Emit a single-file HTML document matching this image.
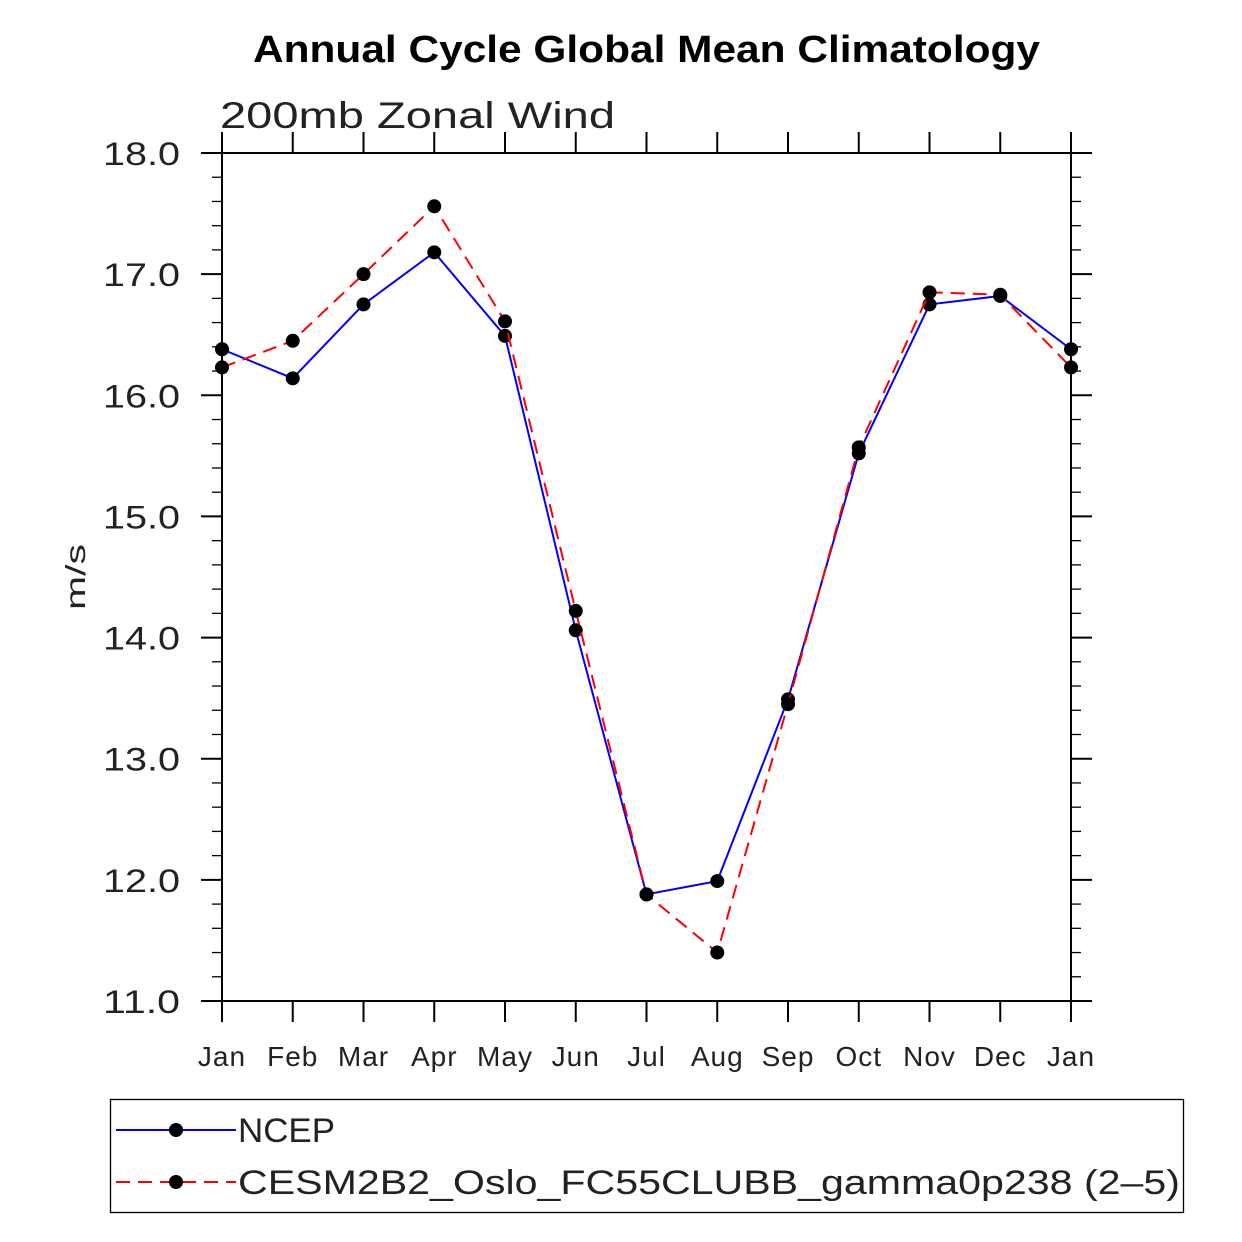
<!DOCTYPE html>
<html><head><meta charset="utf-8"><style>
html,body{margin:0;padding:0;background:#fff;}
svg{display:block;font-family:"Liberation Sans",sans-serif;}
</style></head><body>
<svg id="chart" width="1242" height="1242">
<text x="253" y="62" textLength="787" lengthAdjust="spacingAndGlyphs" font-size="38" font-weight="bold">Annual Cycle Global Mean Climatology</text>
<text x="220" y="128" textLength="395" lengthAdjust="spacingAndGlyphs" font-size="37" fill="#222">200mb Zonal Wind</text>
<text transform="translate(85,577) rotate(-90)" text-anchor="middle" textLength="66" lengthAdjust="spacingAndGlyphs" font-size="28" fill="#222">m/s</text>
<g id="axes"></g>
<g id="series"></g>
<rect x="110.5" y="1099.5" width="1073" height="113" fill="none" stroke="#000" stroke-width="1.3"/>
<g>
<line x1="116" y1="1130" x2="236" y2="1130" stroke="#00f" stroke-width="2"/>
<circle cx="176" cy="1130" r="7"/>
<text x="238" y="1142" textLength="97" lengthAdjust="spacingAndGlyphs" font-size="34" fill="#222">NCEP</text>
</g>
<g>
<line x1="116" y1="1182" x2="236" y2="1182" stroke="#f00" stroke-width="2" stroke-dasharray="14,8"/>
<circle cx="176" cy="1182" r="7"/>
<text x="238" y="1194" textLength="942" lengthAdjust="spacingAndGlyphs" font-size="34" fill="#222">CESM2B2_Oslo_FC55CLUBB_gamma0p238 (2–5)</text>
</g>
</svg>
<script>
const months=["Jan","Feb","Mar","Apr","May","Jun","Jul","Aug","Sep","Oct","Nov","Dec","Jan"];
const ncep=[16.38,16.14,16.75,17.18,16.49,14.06,11.88,11.99,13.49,15.52,16.75,16.82,16.38];
const cesm=[16.23,16.45,17.0,17.56,16.61,14.22,11.88,11.40,13.45,15.57,16.85,16.83,16.23];
const yTicks=[11,12,13,14,15,16,17,18];
const yLabels=["11.0","12.0","13.0","14.0","15.0","16.0","17.0","18.0"];
const NS="http://www.w3.org/2000/svg";
const L=222,R=1071,T=153,B=1001,ymin=11,ymax=18;
const xs=i=>L+i*(R-L)/12;
const ys=v=>B-(v-ymin)/(ymax-ymin)*(B-T);
function mk(tag,attrs,parent){const e=document.createElementNS(NS,tag);for(const k in attrs)e.setAttribute(k,attrs[k]);parent.appendChild(e);return e;}
const ax=document.getElementById('axes');
const frame=mk('rect',{x:L,y:T,width:R-L,height:B-T,fill:'none',stroke:'#000','stroke-width':2},ax);


months.forEach((m,i)=>{const x=xs(i);
mk('line',{x1:x,y1:B,x2:x,y2:B+21,stroke:'#000','stroke-width':2},ax);
mk('line',{x1:x,y1:T,x2:x,y2:T-21,stroke:'#000','stroke-width':2},ax);
const t=mk('text',{x:x,y:1066,'text-anchor':'middle','font-size':28,fill:'#222','letter-spacing':1},ax);t.textContent=m;

});
for(let v=ymin;v<=ymax+1e-6;v+=0.2){const y=ys(v);const maj=Math.abs(v-Math.round(v))<1e-6;const len=maj?21:10;
mk('line',{x1:L-len,y1:y,x2:L,y2:y,stroke:'#000','stroke-width':maj?2:1.3},ax);
mk('line',{x1:R,y1:y,x2:R+len,y2:y,stroke:'#000','stroke-width':maj?2:1.3},ax);}
yTicks.forEach((v,i)=>{const t=mk('text',{x:103,y:ys(v)+12,'font-size':32,fill:'#222',textLength:77,lengthAdjust:'spacingAndGlyphs'},ax);t.textContent=yLabels[i];

});
const sg=document.getElementById('series');
function series(data,color,dash,name){
const p=mk('polyline',{points:data.map((v,i)=>xs(i)+','+ys(v)).join(' '),fill:'none',stroke:color,'stroke-width':2,'stroke-dasharray':dash},sg);


data.forEach((v,i)=>{const c=mk('circle',{cx:xs(i),cy:ys(v),r:7,fill:'#000'},sg);

});}
series(ncep,'#00f','none','ncep');
series(cesm,'#f00','14,8','cesm');
</script>
</body></html>
